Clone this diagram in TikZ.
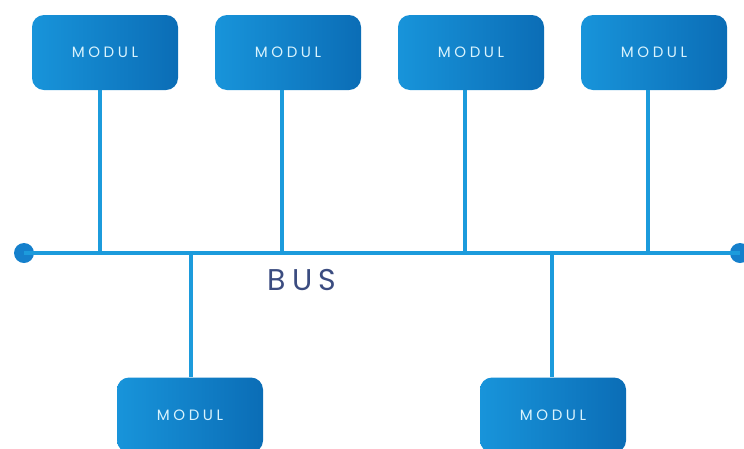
\documentclass[tikz,border=0pt]{standalone}
\usepackage{fontspec}
\setmainfont{Poppins}[LetterSpace=24]
\newfontfamily\busfont{Poppins}[LetterSpace=20]
\definecolor{wire}{HTML}{1C9BDC}
\definecolor{boxL}{HTML}{1894DA}
\definecolor{boxR}{HTML}{0B6DB6}
\definecolor{buslabel}{HTML}{3B4C80}
\definecolor{dotc}{HTML}{1580CC}
\begin{document}
\begin{tikzpicture}[x=1pt,y=-1pt,
  modbox/.style={minimum width=146pt,minimum height=75pt,rounded corners=12pt,
    left color=boxL,right color=boxR,draw=none,inner sep=0pt,
    font=\fontsize{15}{17}\selectfont,text=white!85!cyan},
  wireline/.style={draw=wire,line width=3.6pt},
  busdot/.style={circle,fill=dotc,minimum size=20pt,inner sep=0pt}]
\useasboundingbox (0,0) rectangle (744,448);
\clip (0,0) rectangle (744,448);
% bus line with end terminals
\node[busdot] (L) at (24,253) {};
\node[busdot] (R) at (740,253) {};
\draw[wireline] (L.center) -- (R.center);
% upper modules
\node[modbox] (m1) at (105,52.5) {MODUL};
\node[modbox] (m2) at (288,52.5) {MODUL};
\node[modbox] (m3) at (471,52.5) {MODUL};
\node[modbox] (m4) at (654,52.5) {MODUL};
% lower modules
\node[modbox] (m5) at (190,415) {MODUL};
\node[modbox] (m6) at (553,415) {MODUL};
% taps onto the bus
\coordinate (t1) at (100,253);
\coordinate (t2) at (282,253);
\coordinate (t3) at (465,253);
\coordinate (t4) at (648,253);
\coordinate (t5) at (191,253);
\coordinate (t6) at (552,253);
\draw[wireline] (m1.south -| t1) -- (t1);
\draw[wireline] (m2.south -| t2) -- (t2);
\draw[wireline] (m3.south -| t3) -- (t3);
\draw[wireline] (m4.south -| t4) -- (t4);
\draw[wireline] (t5) -- (m5.north -| t5);
\draw[wireline] (t6) -- (m6.north -| t6);
\node[text=buslabel,font=\busfont\fontsize{30}{34}\selectfont] (bus) at (302,280) {BUS};
\end{tikzpicture}
\end{document}
